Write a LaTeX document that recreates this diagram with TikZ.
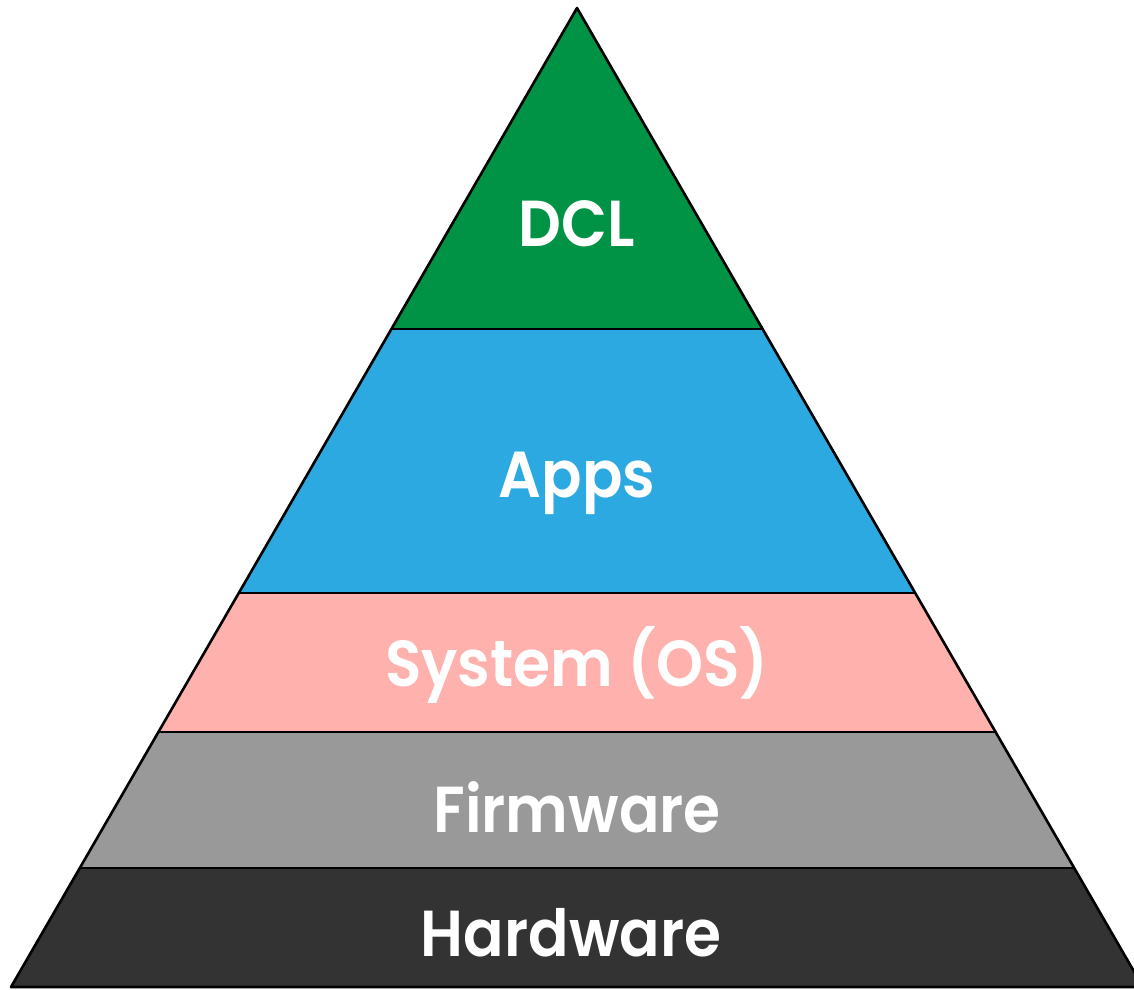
\documentclass[tikz,border=0pt]{standalone}
\usepackage{fontspec}
\newfontfamily\labelfont{Poppins SemiBold}[FakeStretch=0.92]
\begin{document}
\begin{tikzpicture}[x=1pt,y=-1pt,
  layerlabel/.style={text=white,font=\labelfont\fontsize{65}{65}\selectfont,anchor=base,inner sep=0pt},
  edge/.style={draw=black,line width=2.6pt,line join=round}]
\definecolor{dclgreen}{HTML}{009245}
\definecolor{appsblue}{HTML}{2BA9E0}
\definecolor{ospink}{HTML}{FFB1AD}
\definecolor{fwgray}{HTML}{999999}
\definecolor{hwdark}{HTML}{333333}
\useasboundingbox (0,0) rectangle (1134,989);
% apex and base corners of the pyramid
\coordinate (top) at (577,8);
\coordinate (bl) at (11,987);
\coordinate (br) at (1143,987);
% left/right edge points at each layer boundary
\def\xl#1{577-0.578141*(#1-8)}
\def\xr#1{577+0.578141*(#1-8)}
\coordinate (l1) at ({\xl{329}},329); \coordinate (r1) at ({\xr{329}},329);
\coordinate (l2) at ({\xl{593}},593); \coordinate (r2) at ({\xr{593}},593);
\coordinate (l3) at ({\xl{732}},732); \coordinate (r3) at ({\xr{732}},732);
\coordinate (l4) at ({\xl{868}},868); \coordinate (r4) at ({\xr{868}},868);
% layer fills
\fill[dclgreen] (top) -- (r1) -- (l1) -- cycle;
\fill[appsblue] (l1) -- (r1) -- (r2) -- (l2) -- cycle;
\fill[ospink] (l2) -- (r2) -- (r3) -- (l3) -- cycle;
\fill[fwgray] (l3) -- (r3) -- (r4) -- (l4) -- cycle;
\fill[hwdark] (l4) -- (r4) -- (br) -- (bl) -- cycle;
% outlines
\draw[edge] (top) -- (br) -- (bl) -- cycle;
\draw[edge] (l1) -- (r1);
\draw[edge] (l2) -- (r2);
\draw[edge] (l3) -- (r3);
\draw[edge] (l4) -- (r4);
% labels, placed on their baselines
\node[layerlabel] (dcl) at (577,246) {DCL};
\node[layerlabel] (apps) at (577,497) {Apps};
\node[layerlabel] (os) at (577,686) {System (OS)};
\node[layerlabel] (fw) at (577,832) {Firmware};
\node[layerlabel] (hw) at (571,956) {Hardware};
\end{tikzpicture}
\end{document}
